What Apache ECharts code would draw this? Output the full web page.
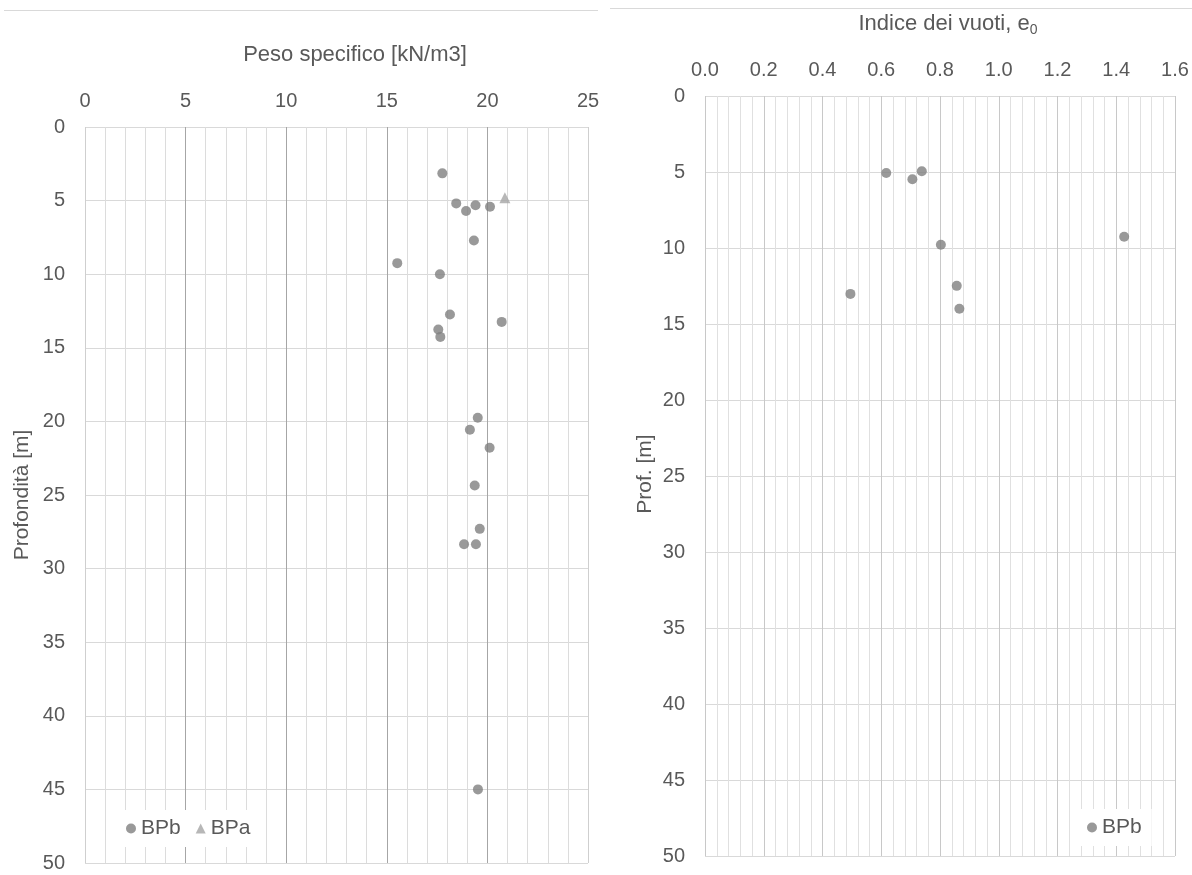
<!DOCTYPE html>
<html><head><meta charset="utf-8">
<script src="https://cdn.jsdelivr.net/npm/echarts@6/dist/echarts.min.js"></script>
<style>html,body{margin:0;padding:0;background:#fff}#c{width:1192px;height:875px}</style>
</head><body><div id="c"></div>
<script>
// Left chart: Peso specifico [kN/m3] vs depth
const pesoBPbValue = [17.76, 18.45, 18.94, 19.41, 20.13, 19.33, 15.52, 17.64, 18.14, 20.71, 17.56, 17.66, 19.52, 19.13, 20.11, 19.37, 19.62, 18.84, 19.43, 19.53];
const pesoBPbDepth = [3.15, 5.19, 5.71, 5.31, 5.42, 7.71, 9.25, 10.0, 12.74, 13.24, 13.76, 14.26, 19.75, 20.57, 21.79, 24.35, 27.3, 28.34, 28.34, 45.0];
const pesoBPaValue = [20.87];
const pesoBPaDepth = [4.8];
// Right chart: Indice dei vuoti e0 vs depth
const e0BPbValue = [0.617, 0.706, 0.738, 1.427, 0.803, 0.857, 0.495, 0.866];
const e0BPbDepth = [5.07, 5.48, 4.95, 9.26, 9.79, 12.49, 13.02, 14.0];

const leftTitle = 'Peso specifico [kN/m3]';
const leftYName = 'Profondità [m]';
const rightYName = 'Prof. [m]';

const zip = (xs, ys) => xs.map((v, i) => [v, ys[i]]);

const TXT = '#595959';
const FONT = 'Liberation Sans, Arial, sans-serif';
const chart = echarts.init(document.getElementById('c'), null, {renderer: 'canvas'});

const yAxisBase = {
  type: 'value', inverse: true, min: 0, max: 50, interval: 5,
  axisLine: {show: false}, axisTick: {show: false},
  axisLabel: {color: TXT, fontSize: 20, fontFamily: FONT, margin: 20},
  splitLine: {show: true, lineStyle: {color: '#d9d9d9', width: 1}}
};

chart.setOption({
  animation: false,
  backgroundColor: '#fff',
  grid: [
    {left: 85, top: 127, width: 503, height: 736},
    {left: 705, top: 96, width: 470, height: 760}
  ],
  xAxis: [
    {
      gridIndex: 0, type: 'value', position: 'top', min: 0, max: 25, interval: 5,
      axisLine: {show: false}, axisTick: {show: false},
      axisLabel: {color: TXT, fontSize: 20, fontFamily: FONT, margin: 16},
      splitLine: {show: true, lineStyle: {color: ['#cfcfcf', '#a6a6a6', '#a6a6a6', '#a6a6a6', '#a6a6a6', '#cfcfcf'], width: 1}},
      minorTick: {show: false, splitNumber: 5},
      minorSplitLine: {show: true, lineStyle: {color: '#dcdcdc', width: 1}}
    },
    {
      gridIndex: 1, type: 'value', position: 'top', min: 0, max: 1.6, interval: 0.2,
      axisLine: {show: false}, axisTick: {show: false},
      axisLabel: {color: TXT, fontSize: 20, fontFamily: FONT, margin: 16, formatter: v => v.toFixed(1)},
      splitLine: {show: true, lineStyle: {color: '#c8c8c8', width: 1}},
      minorTick: {show: false, splitNumber: 5},
      minorSplitLine: {show: true, lineStyle: {color: '#e0e0e0', width: 1}}
    }
  ],
  yAxis: [
    Object.assign({gridIndex: 0}, yAxisBase),
    Object.assign({gridIndex: 1}, yAxisBase)
  ],
  legend: [
    {
      left: 116, top: 810, padding: [8, 10], backgroundColor: '#fff',
      itemWidth: 10, itemHeight: 10, itemGap: 15,
      textStyle: {color: TXT, fontSize: 21, fontFamily: FONT},
      data: [{name: 'BPb', icon: 'circle'}, {name: 'BPa', icon: 'triangle'}]
    },
    {
      left: 1077, top: 809, padding: [8, 10], backgroundColor: '#fff',
      itemWidth: 10, itemHeight: 10,
      textStyle: {color: TXT, fontSize: 21, fontFamily: FONT},
      data: [{name: 'BPb', icon: 'circle'}]
    }
  ],
  graphic: [
    {type: 'line', shape: {x1: 4, y1: 10.5, x2: 598, y2: 10.5}, style: {stroke: '#d9d9d9', lineWidth: 1}, silent: true},
    {type: 'line', shape: {x1: 610, y1: 8.5, x2: 1192, y2: 8.5}, style: {stroke: '#d9d9d9', lineWidth: 1}, silent: true},
    {type: 'text', x: 355, y: 55, style: {text: leftTitle, fill: TXT, fontSize: 22, fontFamily: FONT, align: 'center', verticalAlign: 'middle'}},
    {type: 'text', x: 948, y: 24, style: {
      text: 'Indice dei vuoti, e{s|0}',
      rich: {s: {fontSize: 14, fill: TXT, fontFamily: FONT, padding: [12, 0, 0, 0]}},
      fill: TXT, fontSize: 22, fontFamily: FONT, align: 'center', verticalAlign: 'middle'}},
    {type: 'text', x: 22, y: 495, rotation: Math.PI / 2, style: {text: leftYName, fill: TXT, fontSize: 21, fontFamily: FONT, align: 'center', verticalAlign: 'middle'}},
    {type: 'text', x: 645, y: 474, rotation: Math.PI / 2, style: {text: rightYName, fill: TXT, fontSize: 21, fontFamily: FONT, align: 'center', verticalAlign: 'middle'}}
  ],
  series: [
    {name: 'BPb', type: 'scatter', xAxisIndex: 0, yAxisIndex: 0, symbol: 'circle', symbolSize: 10,
     itemStyle: {color: '#7f7f7f'}, data: zip(pesoBPbValue, pesoBPbDepth)},
    {name: 'BPa', type: 'scatter', xAxisIndex: 0, yAxisIndex: 0, symbol: 'triangle', symbolSize: 11,
     itemStyle: {color: '#a5a5a5'}, data: zip(pesoBPaValue, pesoBPaDepth)},
    {name: 'BPb', type: 'scatter', xAxisIndex: 1, yAxisIndex: 1, symbol: 'circle', symbolSize: 10,
     itemStyle: {color: '#7f7f7f'}, data: zip(e0BPbValue, e0BPbDepth)}
  ]
});
</script>
</body></html>
